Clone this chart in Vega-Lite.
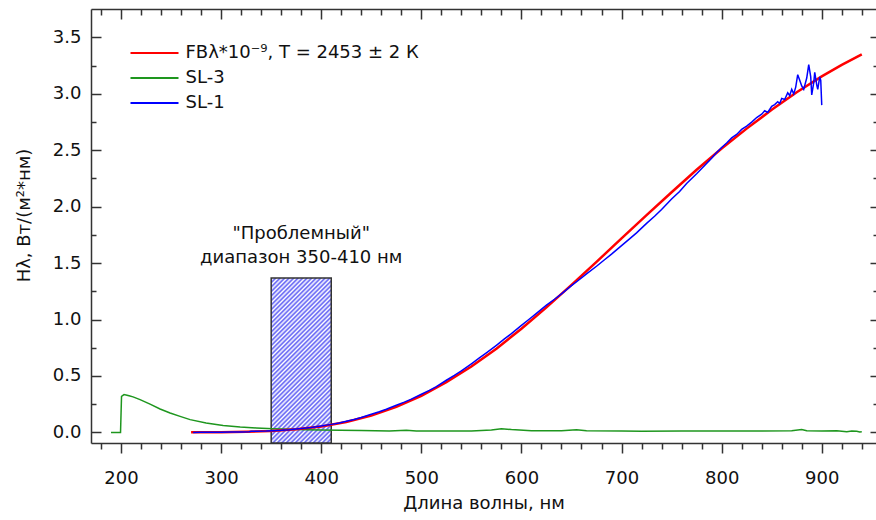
{
"$schema":"https://vega.github.io/schema/vega-lite/v6.json",
"width":785,"height":434,"autosize":"none",
"padding":{"left":91,"top":9,"right":0,"bottom":77},
"background":"#ffffff",
"config":{
 "view":{"stroke":null},
 "axis":{"grid":false,"domain":false,"labels":false,"ticks":true,"tickColor":"#333333","tickWidth":1.5,"domainColor":"#333333","domainWidth":1.5,"labelFont":"DejaVu Sans","labelFontSize":18,"labelColor":"#111111","titleFont":"DejaVu Sans","titleFontSize":18,"titleFontWeight":"normal","titleColor":"#111111"}
},
"datasets":{
 "box":[{"x1":350,"x2":410,"y1":-0.094,"y2":1.368}],
 "ann":[{"x":380,"y":1.714,"t":"\"Проблемный\""},{"x":380,"y":1.501,"t":"диапазон 350-410 нм"}],
 "fb":[
  {"x":270,"y":0.0003,"s":"FBλ*10⁻⁹, T = 2453 ± 2 К"},{"x":300,"y":0.0017,"s":"FBλ*10⁻⁹, T = 2453 ± 2 К"},{"x":325,"y":0.005,"s":"FBλ*10⁻⁹, T = 2453 ± 2 К"},{"x":350,"y":0.0126,"s":"FBλ*10⁻⁹, T = 2453 ± 2 К"},{"x":375,"y":0.0274,"s":"FBλ*10⁻⁹, T = 2453 ± 2 К"},{"x":400,"y":0.0526,"s":"FBλ*10⁻⁹, T = 2453 ± 2 К"},{"x":425,"y":0.0921,"s":"FBλ*10⁻⁹, T = 2453 ± 2 К"},{"x":450,"y":0.149,"s":"FBλ*10⁻⁹, T = 2453 ± 2 К"},{"x":475,"y":0.226,"s":"FBλ*10⁻⁹, T = 2453 ± 2 К"},{"x":500,"y":0.324,"s":"FBλ*10⁻⁹, T = 2453 ± 2 К"},{"x":525,"y":0.444,"s":"FBλ*10⁻⁹, T = 2453 ± 2 К"},{"x":550,"y":0.584,"s":"FBλ*10⁻⁹, T = 2453 ± 2 К"},{"x":575,"y":0.742,"s":"FBλ*10⁻⁹, T = 2453 ± 2 К"},{"x":600,"y":0.919,"s":"FBλ*10⁻⁹, T = 2453 ± 2 К"},{"x":625,"y":1.108,"s":"FBλ*10⁻⁹, T = 2453 ± 2 К"},{"x":650,"y":1.307,"s":"FBλ*10⁻⁹, T = 2453 ± 2 К"},{"x":675,"y":1.511,"s":"FBλ*10⁻⁹, T = 2453 ± 2 К"},{"x":700,"y":1.72,"s":"FBλ*10⁻⁹, T = 2453 ± 2 К"},{"x":725,"y":1.926,"s":"FBλ*10⁻⁹, T = 2453 ± 2 К"},{"x":750,"y":2.128,"s":"FBλ*10⁻⁹, T = 2453 ± 2 К"},{"x":775,"y":2.327,"s":"FBλ*10⁻⁹, T = 2453 ± 2 К"},{"x":800,"y":2.515,"s":"FBλ*10⁻⁹, T = 2453 ± 2 К"},{"x":825,"y":2.692,"s":"FBλ*10⁻⁹, T = 2453 ± 2 К"},{"x":850,"y":2.859,"s":"FBλ*10⁻⁹, T = 2453 ± 2 К"},{"x":875,"y":3.015,"s":"FBλ*10⁻⁹, T = 2453 ± 2 К"},{"x":900,"y":3.155,"s":"FBλ*10⁻⁹, T = 2453 ± 2 К"},{"x":920,"y":3.257,"s":"FBλ*10⁻⁹, T = 2453 ± 2 К"},{"x":940,"y":3.35,"s":"FBλ*10⁻⁹, T = 2453 ± 2 К"}
 ],
 "sl3":[
  {"x":190,"y":0.0,"s":"SL-3"},{"x":199.5,"y":0.0,"s":"SL-3"},{"x":200.5,"y":0.32,"s":"SL-3"},{"x":203,"y":0.335,"s":"SL-3"},{"x":206,"y":0.33,"s":"SL-3"},{"x":208,"y":0.325,"s":"SL-3"},{"x":212,"y":0.315,"s":"SL-3"},{"x":219,"y":0.29,"s":"SL-3"},{"x":229,"y":0.251,"s":"SL-3"},{"x":239,"y":0.207,"s":"SL-3"},{"x":249,"y":0.172,"s":"SL-3"},{"x":259,"y":0.142,"s":"SL-3"},{"x":269,"y":0.113,"s":"SL-3"},{"x":285,"y":0.083,"s":"SL-3"},{"x":302,"y":0.062,"s":"SL-3"},{"x":319,"y":0.047,"s":"SL-3"},{"x":335,"y":0.039,"s":"SL-3"},{"x":352,"y":0.033,"s":"SL-3"},{"x":370,"y":0.028,"s":"SL-3"},{"x":385,"y":0.024,"s":"SL-3"},{"x":400,"y":0.021,"s":"SL-3"},{"x":419,"y":0.018,"s":"SL-3"},{"x":440,"y":0.016,"s":"SL-3"},{"x":468,"y":0.012,"s":"SL-3"},{"x":485,"y":0.018,"s":"SL-3"},{"x":495,"y":0.013,"s":"SL-3"},{"x":520,"y":0.012,"s":"SL-3"},{"x":550,"y":0.013,"s":"SL-3"},{"x":570,"y":0.022,"s":"SL-3"},{"x":580,"y":0.033,"s":"SL-3"},{"x":590,"y":0.025,"s":"SL-3"},{"x":610,"y":0.015,"s":"SL-3"},{"x":640,"y":0.015,"s":"SL-3"},{"x":655,"y":0.024,"s":"SL-3"},{"x":665,"y":0.015,"s":"SL-3"},{"x":700,"y":0.012,"s":"SL-3"},{"x":720,"y":0.01,"s":"SL-3"},{"x":760,"y":0.013,"s":"SL-3"},{"x":800,"y":0.013,"s":"SL-3"},{"x":840,"y":0.012,"s":"SL-3"},{"x":870,"y":0.014,"s":"SL-3"},{"x":880,"y":0.025,"s":"SL-3"},{"x":885,"y":0.014,"s":"SL-3"},{"x":900,"y":0.013,"s":"SL-3"},{"x":915,"y":0.015,"s":"SL-3"},{"x":925,"y":0.006,"s":"SL-3"},{"x":930,"y":0.012,"s":"SL-3"},{"x":935,"y":0.01,"s":"SL-3"},{"x":938,"y":0.003,"s":"SL-3"},{"x":940,"y":0.005,"s":"SL-3"}
 ],
 "sl1":[
  {"x":272,"y":0.0,"s":"SL-1"},{"x":280,"y":0.001,"s":"SL-1"},{"x":290,"y":0.002,"s":"SL-1"},{"x":300,"y":0.002,"s":"SL-1"},{"x":310,"y":0.003,"s":"SL-1"},{"x":320,"y":0.004,"s":"SL-1"},{"x":328,"y":0.005,"s":"SL-1"},{"x":330,"y":0.01,"s":"SL-1"},{"x":335,"y":0.011,"s":"SL-1"},{"x":345,"y":0.012,"s":"SL-1"},{"x":352,"y":0.015,"s":"SL-1"},{"x":360,"y":0.018,"s":"SL-1"},{"x":368,"y":0.023,"s":"SL-1"},{"x":375,"y":0.029,"s":"SL-1"},{"x":383,"y":0.036,"s":"SL-1"},{"x":390,"y":0.043,"s":"SL-1"},{"x":400,"y":0.056,"s":"SL-1"},{"x":410,"y":0.071,"s":"SL-1"},{"x":418,"y":0.084,"s":"SL-1"},{"x":425,"y":0.098,"s":"SL-1"},{"x":433,"y":0.115,"s":"SL-1"},{"x":440,"y":0.132,"s":"SL-1"},{"x":450,"y":0.16,"s":"SL-1"},{"x":458,"y":0.183,"s":"SL-1"},{"x":465,"y":0.205,"s":"SL-1"},{"x":475,"y":0.24,"s":"SL-1"},{"x":483,"y":0.268,"s":"SL-1"},{"x":490,"y":0.295,"s":"SL-1"},{"x":500,"y":0.338,"s":"SL-1"},{"x":508,"y":0.372,"s":"SL-1"},{"x":515,"y":0.405,"s":"SL-1"},{"x":525,"y":0.462,"s":"SL-1"},{"x":533,"y":0.505,"s":"SL-1"},{"x":540,"y":0.545,"s":"SL-1"},{"x":550,"y":0.608,"s":"SL-1"},{"x":558,"y":0.66,"s":"SL-1"},{"x":565,"y":0.705,"s":"SL-1"},{"x":575,"y":0.772,"s":"SL-1"},{"x":583,"y":0.828,"s":"SL-1"},{"x":590,"y":0.875,"s":"SL-1"},{"x":600,"y":0.948,"s":"SL-1"},{"x":608,"y":1.005,"s":"SL-1"},{"x":615,"y":1.055,"s":"SL-1"},{"x":625,"y":1.128,"s":"SL-1"},{"x":633,"y":1.18,"s":"SL-1"},{"x":640,"y":1.228,"s":"SL-1"},{"x":650,"y":1.3,"s":"SL-1"},{"x":658,"y":1.355,"s":"SL-1"},{"x":665,"y":1.405,"s":"SL-1"},{"x":675,"y":1.472,"s":"SL-1"},{"x":683,"y":1.53,"s":"SL-1"},{"x":690,"y":1.58,"s":"SL-1"},{"x":700,"y":1.655,"s":"SL-1"},{"x":708,"y":1.715,"s":"SL-1"},{"x":715,"y":1.768,"s":"SL-1"},{"x":725,"y":1.852,"s":"SL-1"},{"x":733,"y":1.915,"s":"SL-1"},{"x":740,"y":1.975,"s":"SL-1"},{"x":750,"y":2.068,"s":"SL-1"},{"x":758,"y":2.135,"s":"SL-1"},{"x":765,"y":2.205,"s":"SL-1"},{"x":775,"y":2.292,"s":"SL-1"},{"x":783,"y":2.365,"s":"SL-1"},{"x":790,"y":2.43,"s":"SL-1"},{"x":795,"y":2.48,"s":"SL-1"},{"x":800,"y":2.525,"s":"SL-1"},{"x":805,"y":2.565,"s":"SL-1"},{"x":810,"y":2.61,"s":"SL-1"},{"x":815,"y":2.64,"s":"SL-1"},{"x":820,"y":2.685,"s":"SL-1"},{"x":825,"y":2.715,"s":"SL-1"},{"x":830,"y":2.75,"s":"SL-1"},{"x":835,"y":2.79,"s":"SL-1"},{"x":840,"y":2.82,"s":"SL-1"},{"x":843,"y":2.85,"s":"SL-1"},{"x":846,"y":2.835,"s":"SL-1"},{"x":850,"y":2.89,"s":"SL-1"},{"x":853,"y":2.905,"s":"SL-1"},{"x":856,"y":2.93,"s":"SL-1"},{"x":858,"y":2.915,"s":"SL-1"},{"x":860,"y":2.96,"s":"SL-1"},{"x":863,"y":2.95,"s":"SL-1"},{"x":866,"y":3.01,"s":"SL-1"},{"x":868,"y":2.985,"s":"SL-1"},{"x":870,"y":3.04,"s":"SL-1"},{"x":872,"y":3.0,"s":"SL-1"},{"x":874,"y":3.06,"s":"SL-1"},{"x":876,"y":3.17,"s":"SL-1"},{"x":878,"y":3.12,"s":"SL-1"},{"x":880,"y":3.07,"s":"SL-1"},{"x":882,"y":3.04,"s":"SL-1"},{"x":885,"y":3.14,"s":"SL-1"},{"x":887,"y":3.26,"s":"SL-1"},{"x":889,"y":3.15,"s":"SL-1"},{"x":890,"y":2.99,"s":"SL-1"},{"x":892,"y":3.1,"s":"SL-1"},{"x":893,"y":3.19,"s":"SL-1"},{"x":895,"y":3.08,"s":"SL-1"},{"x":896,"y":3.04,"s":"SL-1"},{"x":898,"y":3.15,"s":"SL-1"},{"x":899,"y":3.12,"s":"SL-1"},{"x":900,"y":2.9,"s":"SL-1"}
 ]
},
"layer":[
 {"data":{"name":"box"},
  "mark":{"type":"rect","stroke":"#333333","strokeWidth":1.5,
   "fill":{"gradient":"linear","x1":0,"y1":0,"x2":0.4387,"y2":1.2044,"stops":[
{"offset":0,"color":"#5c5cf4"},{"offset":0.01,"color":"#ffffff"},{"offset":0.02,"color":"#5c5cf4"},{"offset":0.03,"color":"#ffffff"},{"offset":0.04,"color":"#5c5cf4"},{"offset":0.05,"color":"#ffffff"},{"offset":0.06,"color":"#5c5cf4"},{"offset":0.07,"color":"#ffffff"},{"offset":0.08,"color":"#5c5cf4"},{"offset":0.09,"color":"#ffffff"},
{"offset":0.1,"color":"#5c5cf4"},{"offset":0.11,"color":"#ffffff"},{"offset":0.12,"color":"#5c5cf4"},{"offset":0.13,"color":"#ffffff"},{"offset":0.14,"color":"#5c5cf4"},{"offset":0.15,"color":"#ffffff"},{"offset":0.16,"color":"#5c5cf4"},{"offset":0.17,"color":"#ffffff"},{"offset":0.18,"color":"#5c5cf4"},{"offset":0.19,"color":"#ffffff"},
{"offset":0.2,"color":"#5c5cf4"},{"offset":0.21,"color":"#ffffff"},{"offset":0.22,"color":"#5c5cf4"},{"offset":0.23,"color":"#ffffff"},{"offset":0.24,"color":"#5c5cf4"},{"offset":0.25,"color":"#ffffff"},{"offset":0.26,"color":"#5c5cf4"},{"offset":0.27,"color":"#ffffff"},{"offset":0.28,"color":"#5c5cf4"},{"offset":0.29,"color":"#ffffff"},
{"offset":0.3,"color":"#5c5cf4"},{"offset":0.31,"color":"#ffffff"},{"offset":0.32,"color":"#5c5cf4"},{"offset":0.33,"color":"#ffffff"},{"offset":0.34,"color":"#5c5cf4"},{"offset":0.35,"color":"#ffffff"},{"offset":0.36,"color":"#5c5cf4"},{"offset":0.37,"color":"#ffffff"},{"offset":0.38,"color":"#5c5cf4"},{"offset":0.39,"color":"#ffffff"},
{"offset":0.4,"color":"#5c5cf4"},{"offset":0.41,"color":"#ffffff"},{"offset":0.42,"color":"#5c5cf4"},{"offset":0.43,"color":"#ffffff"},{"offset":0.44,"color":"#5c5cf4"},{"offset":0.45,"color":"#ffffff"},{"offset":0.46,"color":"#5c5cf4"},{"offset":0.47,"color":"#ffffff"},{"offset":0.48,"color":"#5c5cf4"},{"offset":0.49,"color":"#ffffff"},
{"offset":0.5,"color":"#5c5cf4"},{"offset":0.51,"color":"#ffffff"},{"offset":0.52,"color":"#5c5cf4"},{"offset":0.53,"color":"#ffffff"},{"offset":0.54,"color":"#5c5cf4"},{"offset":0.55,"color":"#ffffff"},{"offset":0.56,"color":"#5c5cf4"},{"offset":0.57,"color":"#ffffff"},{"offset":0.58,"color":"#5c5cf4"},{"offset":0.59,"color":"#ffffff"},
{"offset":0.6,"color":"#5c5cf4"},{"offset":0.61,"color":"#ffffff"},{"offset":0.62,"color":"#5c5cf4"},{"offset":0.63,"color":"#ffffff"},{"offset":0.64,"color":"#5c5cf4"},{"offset":0.65,"color":"#ffffff"},{"offset":0.66,"color":"#5c5cf4"},{"offset":0.67,"color":"#ffffff"},{"offset":0.68,"color":"#5c5cf4"},{"offset":0.69,"color":"#ffffff"},
{"offset":0.7,"color":"#5c5cf4"},{"offset":0.71,"color":"#ffffff"},{"offset":0.72,"color":"#5c5cf4"},{"offset":0.73,"color":"#ffffff"},{"offset":0.74,"color":"#5c5cf4"},{"offset":0.75,"color":"#ffffff"},{"offset":0.76,"color":"#5c5cf4"},{"offset":0.77,"color":"#ffffff"},{"offset":0.78,"color":"#5c5cf4"},{"offset":0.79,"color":"#ffffff"},
{"offset":0.8,"color":"#5c5cf4"},{"offset":0.81,"color":"#ffffff"},{"offset":0.82,"color":"#5c5cf4"},{"offset":0.83,"color":"#ffffff"},{"offset":0.84,"color":"#5c5cf4"},{"offset":0.85,"color":"#ffffff"},{"offset":0.86,"color":"#5c5cf4"},{"offset":0.87,"color":"#ffffff"},{"offset":0.88,"color":"#5c5cf4"},{"offset":0.89,"color":"#ffffff"},
{"offset":0.9,"color":"#5c5cf4"},{"offset":0.91,"color":"#ffffff"},{"offset":0.92,"color":"#5c5cf4"},{"offset":0.93,"color":"#ffffff"},{"offset":0.94,"color":"#5c5cf4"},{"offset":0.95,"color":"#ffffff"},{"offset":0.96,"color":"#5c5cf4"},{"offset":0.97,"color":"#ffffff"},{"offset":0.98,"color":"#5c5cf4"},{"offset":0.99,"color":"#ffffff"},{"offset":1,"color":"#5c5cf4"}
   ]}},
  "encoding":{
   "x":{"field":"x1","type":"quantitative","scale":{"domain":[170,954.2],"nice":false,"zero":false},
    "axis":{"orient":"bottom","values":[200,300,400,500,600,700,800,900],"domain":true,"labels":true,"tickSize":10,"labelPadding":16,"labelFlush":false,"labelOverlap":false,"title":"Длина волны, нм","titleY":65,"titleBaseline":"alphabetic"}},
   "x2":{"field":"x2"},
   "y":{"field":"y1","type":"quantitative","scale":{"domain":[-0.094,3.752],"nice":false,"zero":false},
    "axis":{"orient":"left","values":[0,0.5,1,1.5,2,2.5,3,3.5],"format":".1f","domain":true,"ticks":false,"labels":true,"labelPadding":10,"labelFlush":false,"labelOverlap":false,"title":"Hλ, Вт/(м²*нм)","titleX":-61.5,"titleY":206,"titleAngle":-90,"titleBaseline":"alphabetic","titleAlign":"center"}},
   "y2":{"field":"y2"}
  }},
 {"data":{"name":"sl3"},
  "mark":{"type":"line","strokeWidth":1.5},
  "encoding":{
   "x":{"field":"x","type":"quantitative","scale":{"domain":[170,954.2],"nice":false,"zero":false},
    "axis":{"orient":"bottom","values":[180,220,240,260,280,320,340,360,380,420,440,460,480,520,540,560,580,620,640,660,680,720,740,760,780,820,840,860,880,920,940],"tickSize":6,"title":null}},
   "y":{"field":"y","type":"quantitative","scale":{"domain":[-0.094,3.752],"nice":false,"zero":false},
    "axis":{"orient":"left","values":[0,0.5,1,1.5,2,2.5,3,3.5],"offset":-10,"tickSize":10,"title":null}},
   "color":{"field":"s","type":"nominal","scale":{"domain":["FBλ*10⁻⁹, T = 2453 ± 2 К","SL-3","SL-1"],"range":["#ff0000","#1e961e","#0000ff"]},
    "legend":{"title":null,"orient":"none","legendX":54.5,"legendY":35,"symbolType":"M-4.8,0L4.8,0","symbolSize":100,"symbolStrokeWidth":2,"labelFont":"DejaVu Sans","labelFontSize":18,"labelColor":"#111111","labelOffset":22,"labelLimit":400,"rowPadding":7,"padding":0}}
  }},
 {"data":{"name":"fb"},
  "mark":{"type":"line","strokeWidth":2.5},
  "encoding":{
   "x":{"field":"x","type":"quantitative","scale":{"domain":[170,954.2],"nice":false,"zero":false},
    "axis":{"orient":"top","domain":true,"ticks":false,"title":null}},
   "y":{"field":"y","type":"quantitative","scale":{"domain":[-0.094,3.752],"nice":false,"zero":false},
    "axis":{"orient":"left","values":[0.25,0.75,1.25,1.75,2.25,2.75,3.25],"offset":-5,"tickSize":5,"title":null}},
   "color":{"field":"s","type":"nominal","scale":{"domain":["FBλ*10⁻⁹, T = 2453 ± 2 К","SL-3","SL-1"],"range":["#ff0000","#1e961e","#0000ff"]},
    "legend":{"title":null,"orient":"none","legendX":54.5,"legendY":35,"symbolType":"M-4.8,0L4.8,0","symbolSize":100,"symbolStrokeWidth":2,"labelFont":"DejaVu Sans","labelFontSize":18,"labelColor":"#111111","labelOffset":22,"labelLimit":400,"rowPadding":7,"padding":0}}
  }},
 {"data":{"name":"sl1"},
  "mark":{"type":"line","strokeWidth":1.5},
  "encoding":{
   "x":{"field":"x","type":"quantitative","scale":{"domain":[170,954.2],"nice":false,"zero":false},
    "axis":{"orient":"top","values":[200,300,400,500,600,700,800,900],"offset":-10,"tickSize":10,"title":null}},
   "y":{"field":"y","type":"quantitative","scale":{"domain":[-0.094,3.752],"nice":false,"zero":false},
    "axis":{"orient":"right","values":[0,0.5,1,1.5,2,2.5,3,3.5],"offset":-6,"tickSize":6,"title":null}},
   "color":{"field":"s","type":"nominal","scale":{"domain":["FBλ*10⁻⁹, T = 2453 ± 2 К","SL-3","SL-1"],"range":["#ff0000","#1e961e","#0000ff"]},
    "legend":{"title":null,"orient":"none","legendX":54.5,"legendY":35,"symbolType":"M-4.8,0L4.8,0","symbolSize":100,"symbolStrokeWidth":2,"labelFont":"DejaVu Sans","labelFontSize":18,"labelColor":"#111111","labelOffset":22,"labelLimit":400,"rowPadding":7,"padding":0}}
  }},
 {"data":{"name":"ann"},
  "mark":{"type":"text","font":"DejaVu Sans","fontSize":18,"align":"center","baseline":"alphabetic","color":"#111111"},
  "encoding":{
   "x":{"field":"x","type":"quantitative","scale":{"domain":[170,954.2],"nice":false,"zero":false},
    "axis":{"orient":"top","values":[180,220,240,260,280,320,340,360,380,420,440,460,480,520,540,560,580,620,640,660,680,720,740,760,780,820,840,860,880,920,940],"offset":-6,"tickSize":6,"title":null}},
   "y":{"field":"y","type":"quantitative","scale":{"domain":[-0.094,3.752],"nice":false,"zero":false},
    "axis":{"orient":"right","values":[0.25,0.75,1.25,1.75,2.25,2.75,3.25],"offset":-3,"tickSize":3,"title":null}},
   "text":{"field":"t","type":"nominal"}
  }}
],
"resolve":{"axis":{"x":"independent","y":"independent"}}
}
